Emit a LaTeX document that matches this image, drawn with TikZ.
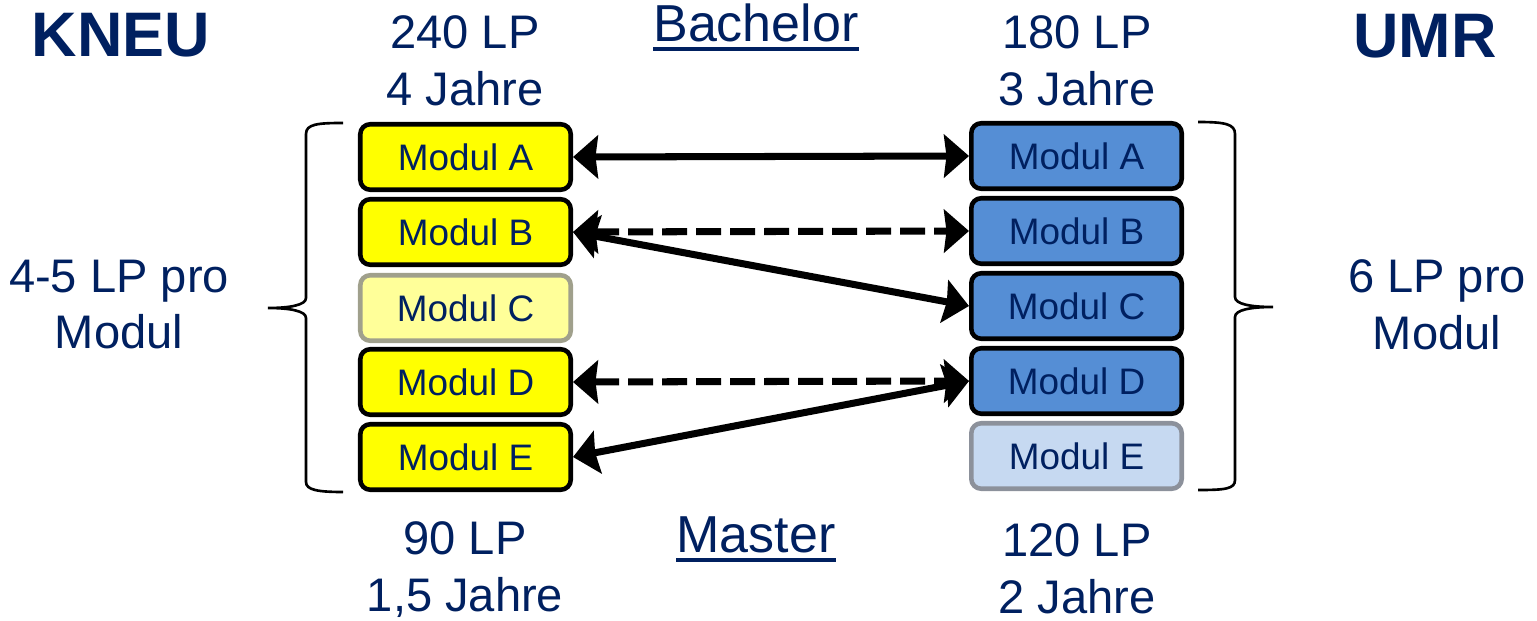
\documentclass[tikz,border=0pt]{standalone}
\usepackage{fontspec}
\setmainfont{Liberation Sans}
\usepackage{tikz}
\usetikzlibrary{arrows.meta}
\definecolor{navy}{RGB}{0,32,96}
\definecolor{kgelb}{RGB}{255,255,0}
\definecolor{kgelbhell}{RGB}{255,255,153}
\definecolor{krand}{RGB}{160,160,140}
\definecolor{ublau}{RGB}{85,142,213}
\definecolor{ublauhell}{RGB}{198,217,241}
\definecolor{urand}{RGB}{140,145,155}
\tikzset{>={Stealth[length=0.5cm, width=0.86cm, inset=0.05cm]}}
\tikzset{
	modul/.style={draw=black, line width=2.6pt, rounded corners=0.2cm, minimum width=4.21cm, minimum height=1.31cm, inner sep=0pt, text=navy, font=\fontsize{21}{25}\selectfont},
	modk/.style={modul, fill=kgelb},
	modkx/.style={modul, fill=kgelbhell, draw=krand},
	modu/.style={modul, fill=ublau},
	modux/.style={modul, fill=ublauhell, draw=urand},
	txt/.style={text=navy, inner sep=0pt, align=center, font=\fontsize{26.8}{32.4}\selectfont},
	head/.style={text=navy, inner sep=0pt, anchor=base, font=\fontsize{29.6}{34}\selectfont},
	uni/.style={text=navy, inner sep=0pt, anchor=base, font=\fontsize{35.8}{40}\selectfont\bfseries},
	conn/.style={<->, line width=4pt},
	dconn/.style={conn, dash pattern=on 0.5cm off 0.18cm},
	klammer/.style={line width=1.5pt}
}

\begin{document}
\begin{tikzpicture}[x=0.02cm, y=-0.02cm]
	\useasboundingbox (0,0) rectangle (1537,621);

	\node[uni] (kneu) at (121,57) {KNEU};
	\node[uni] (umr) at (1425,58) {UMR};

	\node[head] (bach) at (756,42) {Bachelor};
	\node[head] (mast) at (756,552) {Master};
	\draw[navy, line width=2pt]([yshift=-0.14cm]bach.base west)--([yshift=-0.14cm]bach.base east);
	\draw[navy, line width=2pt]([yshift=-0.16cm]mast.base west)--([yshift=-0.16cm]mast.base east);

	\node[txt] (kbach) at (465,60.5) {240 LP\\4 Jahre};
	\node[txt] (ubach) at (1077,61) {180 LP\\3 Jahre};
	\node[txt] (kmast) at (465,570) {90 LP\\1,5 Jahre};
	\node[txt] (umast) at (1077,568.5) {120 LP\\2 Jahre};
	\node[txt] (klp) at (119,304.5) {4-5 LP pro\\Modul};
	\node[txt] (ulp) at (1437,304.5) {6 LP pro\\Modul};

	% KNEU
	\node[modk] (kA) at (465.5,157) {Modul A};
	\node[modk] (kB) at (465.5,232) {Modul B};
	\node[modkx] (kC) at (465.5,308) {Modul C};
	\node[modk] (kD) at (465.5,382) {Modul D};
	\node[modk] (kE) at (465.5,457) {Modul E};

	% UMR
	\node[modu] (uA) at (1076.5,156) {Modul A};
	\node[modu] (uB) at (1076.5,231) {Modul B};
	\node[modu] (uC) at (1076.5,306) {Modul C};
	\node[modu] (uD) at (1076.5,381) {Modul D};
	\node[modux] (uE) at (1076.5,456) {Modul E};

	\draw[klammer](343,123) .. controls (318,123) and (306,124) .. (306,134)--(306,298) .. controls (306,305) and (290,308) .. (268,308) .. controls (290,308) and (306,311) .. (306,318)--(306,482) .. controls (306,490) and (318,492) .. (343,492);
	\draw[klammer](1198,122) .. controls (1225,122) and (1235,124) .. (1235,134)--(1235,297) .. controls (1235,304) and (1250,307) .. (1273,307) .. controls (1250,307) and (1235,310) .. (1235,317)--(1235,480) .. controls (1235,489) and (1225,490) .. (1198,490);

	\draw[conn](kA.east)--(uA.west);
	\draw[dconn](kB.east)--(uB.west);
	\draw[conn](kB.east)--(uC.west);
	\draw[dconn](kD.east)--(uD.west);
	\draw[conn](kE.east)--(uD.west);

\end{tikzpicture}
\end{document}
